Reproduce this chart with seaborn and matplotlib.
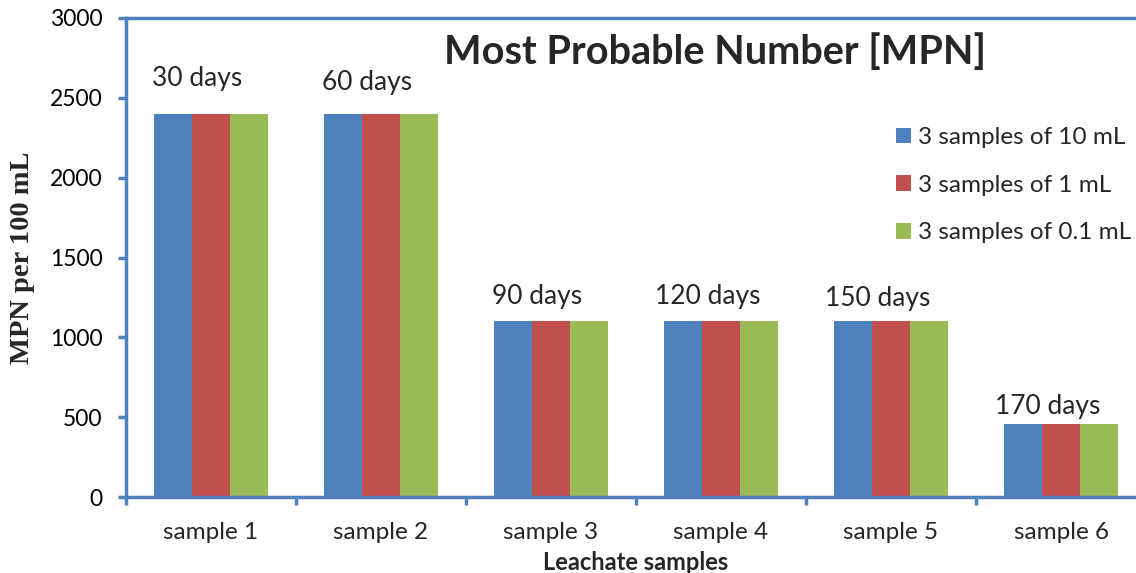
import matplotlib
matplotlib.use("Agg")
import matplotlib.pyplot as plt
import seaborn as sns
import pandas as pd

samples = ["sample 1", "sample 2", "sample 3", "sample 4", "sample 5", "sample 6"]
series = ["3 samples of 10 mL", "3 samples of 1 mL", "3 samples of 0.1 mL"]
vals_10 = [2400, 2400, 1100, 1100, 1100, 460]
vals_1 = [2400, 2400, 1100, 1100, 1100, 460]
vals_01 = [2400, 2400, 1100, 1100, 1100, 460]
day_labels = ["30 days", "60 days", "90 days", "120 days", "150 days", "170 days"]
yticks = [0, 500, 1000, 1500, 2000, 2500, 3000]

colors = ["#4F81BD", "#C0504D", "#9BBB59"]
axis_color = "#4F81BD"
label_offsets_px = [35, 31, 25, 25, 23, 17]

rows = []
for s, v in zip(series, [vals_10, vals_1, vals_01]):
    for smp, val in zip(samples, v):
        rows.append({"sample": smp, "series": s, "value": val})
df = pd.DataFrame(rows)

sns.set_theme(style="white")
plt.rcParams['font.family'] = ['Lato', 'DejaVu Sans']

W, H = 1136, 573
fig = plt.figure(figsize=(W / 100, H / 100), dpi=100)
ax = fig.add_axes([126 / W, (H - 497) / H, 1020 / W, (497 - 18) / H])

sns.barplot(data=df, x="sample", y="value", hue="series", palette=colors,
            width=0.667, saturation=1, ax=ax, errorbar=None, linewidth=0)

ax.set_xlim(-0.5, 5.5)
ax.set_ylim(0, 3000)
ax.set_yticks(yticks)
ax.set_yticklabels([str(t) for t in yticks], fontsize=16.5)
ax.set_xticks(range(len(samples)))
ax.set_xticklabels(samples, fontsize=17.5)
ax.tick_params(axis="x", length=0, pad=18)
ax.set_xticks([i - 0.5 for i in range(len(samples) + 1)], minor=True)
ax.tick_params(axis="x", which="minor", length=6, width=2.5, color=axis_color, direction="out", bottom=True)
ax.tick_params(axis="y", length=6, width=2.5, color=axis_color, direction="out", left=True, pad=11, labelcolor="black")

for side in ["left", "bottom", "top"]:
    ax.spines[side].set_color(axis_color)
    ax.spines[side].set_linewidth(2.5)
ax.spines["right"].set_visible(False)

ax.set_ylabel("MPN per 100 mL", fontsize=20.5, fontweight="bold", family="Liberation Serif")
ax.yaxis.set_label_coords((35 - 126) / 1020, 0.5)
ax.set_xlabel("Leachate samples", fontsize=17, fontweight="bold")
ax.xaxis.set_label_coords((636 - 126) / 1020, (497 - 551) / 479)

for i, (lab, v, off) in enumerate(zip(day_labels, vals_10, label_offsets_px)):
    ax.annotate(lab, xy=(i - 0.08, v), xytext=(0, off * 0.72), textcoords="offset points",
                ha="center", va="center", fontsize=19)

ax.text((715 - 126) / 1020, (497 - 52) / 479, "Most Probable Number [MPN]", transform=ax.transAxes,
        fontsize=28.5, fontweight="bold", ha="center", va="center")

leg = ax.legend(loc="upper left", bbox_to_anchor=(896 / W, 1 - 127 / H), bbox_transform=fig.transFigure,
                frameon=False, fontsize=17.5, handlelength=0.62, handleheight=0.62, handletextpad=0.3,
                labelspacing=1.1, borderpad=0, borderaxespad=0)

fig.savefig("out.png", dpi=100)
